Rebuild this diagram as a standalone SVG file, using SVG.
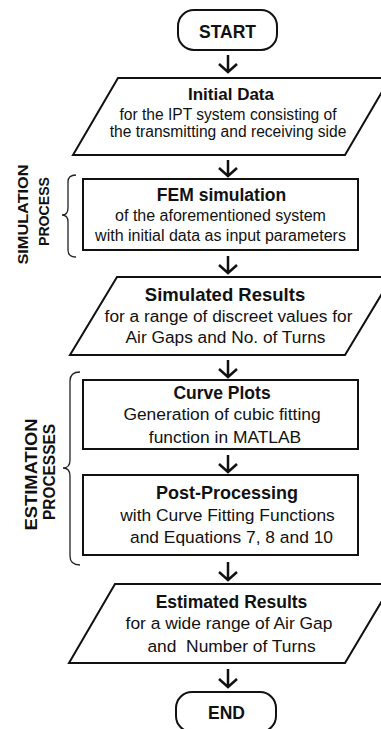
<svg xmlns="http://www.w3.org/2000/svg" width="381" height="729" viewBox="0 0 381 729">
<style>
.shape{fill:#fff;stroke:#111;stroke-width:2}
.t{font-family:"Liberation Sans",Arial,sans-serif;font-size:17.4px;fill:#111;text-anchor:middle}
.b{font-weight:bold;font-size:17.5px}
.s155{font-size:15.6px}
.s16{font-size:16px}
.side{font-family:"Liberation Sans",Arial,sans-serif;font-weight:bold;fill:#111;text-anchor:middle}
.arr{fill:none;stroke:#111;stroke-width:2.5;stroke-linejoin:miter}
.brace{fill:none;stroke:#222;stroke-width:1.3}
</style>
<rect width="381" height="729" fill="#fff"/>
<g id="connectors">
<path class="arr" d="M228,55 V72 M219,64 L228,72 L237,64"/>
<path class="arr" d="M228,160 V176 M219,168 L228,176 L237,168"/>
<path class="arr" d="M228,256 V273 M219,265 L228,273 L237,265"/>
<path class="arr" d="M228,360 V377 M219,369 L228,377 L237,369"/>
<path class="arr" d="M228,455 V472 M219,464 L228,472 L237,464"/>
<path class="arr" d="M228,562 V580 M219,572 L228,580 L237,572"/>
<path class="arr" d="M228,669 V687 M219,679 L228,687 L237,679"/>
</g>
<g id="start">
<rect class="shape" x="178" y="10" width="99" height="40" rx="16" ry="16"/>
<text class="t b" x="227.5" y="38">START</text>
</g>
<g id="initial-data">
<polygon class="shape" points="118,78 390,78 345,155 73,155"/>
<text class="t b" x="231" y="100" font-size="17" style="font-size:17px">Initial Data</text>
<text class="t s155" x="228" y="120">for the IPT system consisting of</text>
<text class="t s155" x="228" y="137">the transmitting and receiving side</text>
</g>
<g id="fem-simulation">
<rect class="shape" x="83" y="179" width="275" height="71"/>
<text class="t b" x="221.5" y="201">FEM simulation</text>
<text class="t s16" x="220.5" y="221">of the aforementioned system</text>
<text class="t s16" x="220.5" y="241">with initial data as input parameters</text>
</g>
<g id="simulation-label">
<path class="brace" d="M76,175 Q68,175 68,182 L68,208 Q68,215 62,215 Q68,215 68,222 L68,250 Q68,257 76,257"/>
<text class="side" font-size="15.5" textLength="100" lengthAdjust="spacingAndGlyphs" transform="translate(28,214.5) rotate(-90)">SIMULATION</text>
<text class="side" font-size="15.5" textLength="69" lengthAdjust="spacingAndGlyphs" transform="translate(49,211.5) rotate(-90)">PROCESS</text>
</g>
<g id="simulated-results">
<polygon class="shape" points="117,277 392,277 345,355 70,355"/>
<text class="t b" x="225" y="301" style="font-size:18.5px">Simulated Results</text>
<text class="t" x="228.5" y="322" style="font-size:17.3px">for a range of discreet values for</text>
<text class="t" x="225.5" y="343" style="font-size:17.3px">Air Gaps and No. of Turns</text>
</g>
<g id="curve-plots">
<rect class="shape" x="83" y="380" width="275" height="69"/>
<text class="t b" x="222" y="399">Curve Plots</text>
<text class="t" x="222" y="420">Generation of cubic fitting</text>
<text class="t" x="225" y="443">function in MATLAB</text>
</g>
<g id="post-processing">
<rect class="shape" x="83" y="475" width="275" height="80"/>
<text class="t b" x="227" y="499" style="font-size:18px">Post-Processing</text>
<text class="t" x="227.5" y="521">with Curve Fitting Functions</text>
<text class="t" x="231.5" y="543">and Equations 7, 8 and 10</text>
</g>
<g id="estimation-label">
<path class="brace" d="M80,372 Q70,372 70,381 L70,460 Q70,468 63,468 Q70,468 70,476 L70,556 Q70,565 80,565"/>
<text class="side" font-size="17" textLength="112" lengthAdjust="spacingAndGlyphs" transform="translate(37,474.5) rotate(-90)">ESTIMATION</text>
<text class="side" font-size="17" textLength="96" lengthAdjust="spacingAndGlyphs" transform="translate(55,472) rotate(-90)">PROCESSES</text>
</g>
<g id="estimated-results">
<polygon class="shape" points="115,584 392,584 345,663 69,663"/>
<text class="t b" x="231.5" y="608">Estimated Results</text>
<text class="t" x="229" y="629">for a wide range of Air Gap</text>
<text class="t" x="231.5" y="652" style="white-space:pre">and  Number of Turns</text>
</g>
<g id="end">
<rect class="shape" x="176" y="692" width="100" height="40" rx="16" ry="16"/>
<text class="t b" x="226.5" y="719">END</text>
</g>
</svg>
